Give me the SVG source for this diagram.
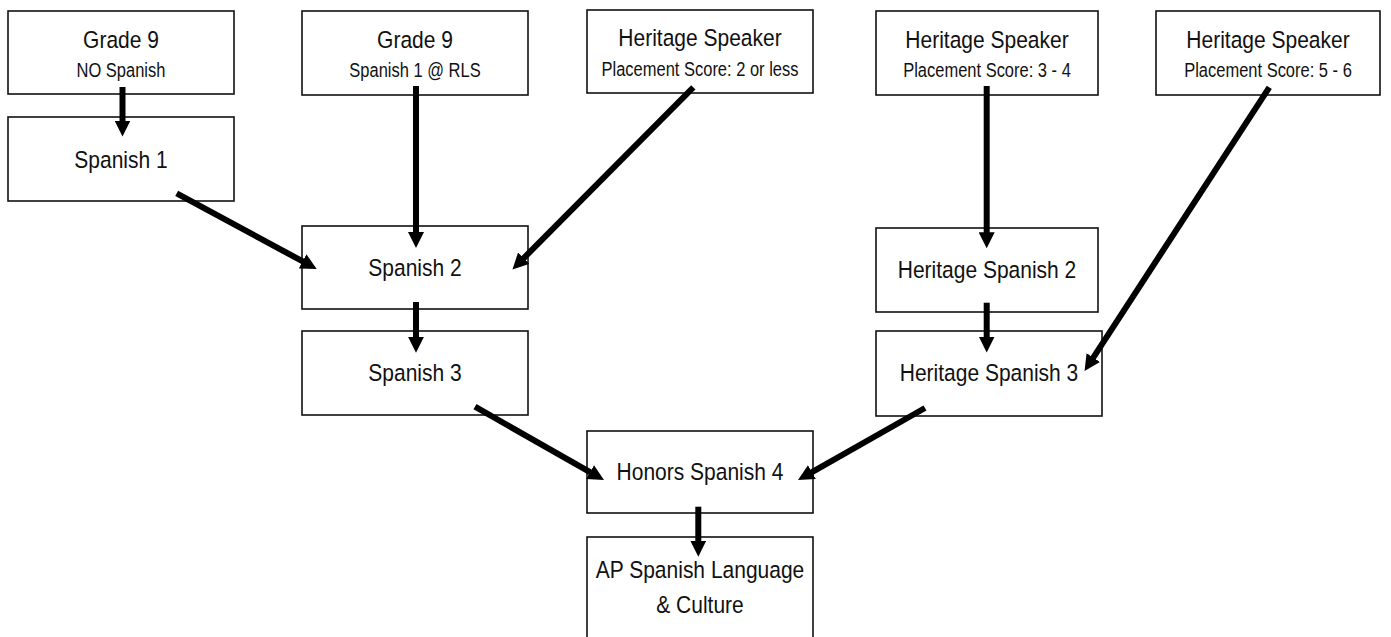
<svg xmlns="http://www.w3.org/2000/svg" width="1391" height="637" viewBox="0 0 1391 637">
<style>
.box{fill:#fff;stroke:#111;stroke-width:1.6}
.t{font-family:"Liberation Sans",Arial,sans-serif;font-size:21px;fill:#111;text-anchor:middle}
.s{font-family:"Liberation Sans",Arial,sans-serif;font-size:16.5px;fill:#111;text-anchor:middle}
.c{stroke:#000;stroke-width:6;fill:none;marker-end:url(#ah)}
</style>
<defs>
<marker id="ah" markerUnits="userSpaceOnUse" markerWidth="16" markerHeight="16" refX="6" refY="8" orient="auto" viewBox="0 0 16 16">
<path d="M0,0 L16,8 L0,16 z" fill="#000"/>
</marker>
</defs>
<rect width="1391" height="637" fill="#fff"/>
<g id="n-grade9-none"><rect class="box" x="8" y="11" width="226" height="83"/><text class="t" transform="translate(121,48) scale(1,1.17)">Grade 9</text><text class="s" transform="translate(121,77) scale(1,1.17)">NO Spanish</text></g>
<g id="n-grade9-rls"><rect class="box" x="302" y="11" width="226" height="84"/><text class="t" transform="translate(415,48) scale(1,1.17)">Grade 9</text><text class="s" transform="translate(415,77) scale(1,1.17)">Spanish 1 @ RLS</text></g>
<g id="n-hs-2"><rect class="box" x="587" y="10" width="226" height="83"/><text class="t" transform="translate(700,46) scale(1,1.17)">Heritage Speaker</text><text class="s" transform="translate(700,76) scale(1,1.17)">Placement Score: 2 or less</text></g>
<g id="n-hs-34"><rect class="box" x="876" y="11" width="222" height="84"/><text class="t" transform="translate(987,48) scale(1,1.17)">Heritage Speaker</text><text class="s" transform="translate(987,77) scale(1,1.17)">Placement Score: 3 - 4</text></g>
<g id="n-hs-56"><rect class="box" x="1156" y="11" width="224" height="84"/><text class="t" transform="translate(1268,48) scale(1,1.17)">Heritage Speaker</text><text class="s" transform="translate(1268,77) scale(1,1.17)">Placement Score: 5 - 6</text></g>
<g id="n-sp1"><rect class="box" x="8" y="117" width="226" height="84"/><text class="t" transform="translate(121,168) scale(1,1.17)">Spanish 1</text></g>
<g id="n-sp2"><rect class="box" x="302" y="226" width="226" height="83"/><text class="t" transform="translate(415,276) scale(1,1.17)">Spanish 2</text></g>
<g id="n-hsp2"><rect class="box" x="876" y="228" width="222" height="84"/><text class="t" transform="translate(987,278) scale(1,1.17)">Heritage Spanish 2</text></g>
<g id="n-sp3"><rect class="box" x="302" y="331" width="226" height="84"/><text class="t" transform="translate(415,381) scale(1,1.17)">Spanish 3</text></g>
<g id="n-hsp3"><rect class="box" x="876" y="331" width="226" height="85"/><text class="t" transform="translate(989,381) scale(1,1.17)">Heritage Spanish 3</text></g>
<g id="n-hsp4"><rect class="box" x="587" y="431" width="226" height="82"/><text class="t" transform="translate(700,480) scale(1,1.17)">Honors Spanish 4</text></g>
<g id="n-ap"><rect class="box" x="587" y="537" width="226" height="110"/><text class="t" transform="translate(700,578) scale(1,1.17)">AP Spanish Language</text><text class="t" transform="translate(700,613) scale(1,1.17)">&amp; Culture</text></g>
<g id="connectors">
<line class="c" x1="122.5" y1="87" x2="122.5" y2="126.5"/>
<line class="c" x1="176.7" y1="193.3" x2="307.9" y2="264.2"/>
<line class="c" x1="416" y1="86" x2="416" y2="238"/>
<line class="c" x1="693.3" y1="87.3" x2="519.5" y2="262.4"/>
<line class="c" x1="416" y1="302" x2="416" y2="342.7"/>
<line class="c" x1="986.7" y1="86" x2="986.7" y2="238.3"/>
<line class="c" x1="1269.3" y1="87.3" x2="1090" y2="362.6"/>
<line class="c" x1="986.7" y1="302.7" x2="986.7" y2="342.5"/>
<line class="c" x1="475" y1="406.7" x2="595.3" y2="475.1"/>
<line class="c" x1="925" y1="408" x2="806.7" y2="475.1"/>
<line class="c" x1="698.3" y1="506.7" x2="698.3" y2="546.7"/>
</g>
</svg>
